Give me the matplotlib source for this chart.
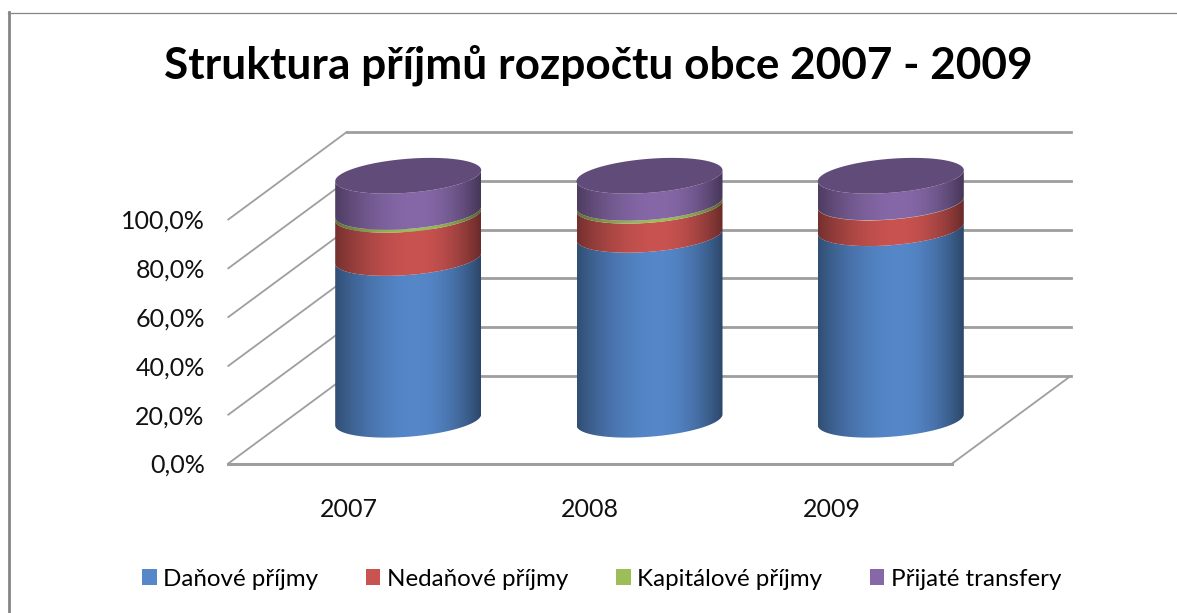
import numpy as np
import matplotlib
matplotlib.use("Agg")
import matplotlib.pyplot as plt
from matplotlib.colors import to_rgb
from matplotlib.lines import Line2D
from matplotlib.patches import Patch, Polygon

plt.rcParams['font.family'] = ['Lato', 'DejaVu Sans']

# ---- data (percent of the year's income) ----
years = ['2007', '2008', '2009']
danove = [66.3, 75.8, 78.5]
nedanove = [17.7, 11.9, 10.5]
kapitalove = [1.2, 1.2, 0.1]
transfery = [14.8, 11.1, 10.9]
series_names = ['Daňové příjmy', 'Nedaňové příjmy', 'Kapitálové příjmy', 'Přijaté transfery']
y_ticks = [0, 20, 40, 60, 80, 100]
y_labels = ['0,0%', '20,0%', '40,0%', '60,0%', '80,0%', '100,0%']
title = 'Struktura příjmů rozpočtu obce 2007 - 2009'

# ---- style ----
colors = ['#5587C9', '#C95350', '#9DBD58', '#8668A8']
top_color = '#614B79'
grid_color = '#9E9E9E'

W, H = 1177, 613
fig = plt.figure(figsize=(W / 100, H / 100), dpi=100, facecolor='white')


def fx(px):
    return px / W


def fy(py):
    return 1 - py / H


L, R, T, B = 228.3, 1070, 130, 463.5
ax = fig.add_axes([fx(L), fy(B), (R - L) / W, (B - T) / H])
PX_X = 241.3   # pixels per category
PX_Y = 2.44    # pixels per percent
ax.patch.set_visible(False)
for s in ax.spines.values():
    s.set_visible(False)

DX = 118.5 / PX_X   # depth shift, category units
DY = 87.5 / PX_Y    # depth shift, percent units
XMIN = -0.5

# walls / floor
for v in y_ticks:
    ax.plot([XMIN, XMIN + DX], [v, v + DY], color=grid_color, lw=1.3, clip_on=False, zorder=1)
    ax.plot([XMIN + DX, XMIN + 3 + DX], [v + DY, v + DY], color=grid_color, lw=2.0, clip_on=False, zorder=1)
ax.plot([XMIN, XMIN + 3], [0, 0], color=grid_color, lw=2.2, clip_on=False, zorder=1)
ax.plot([XMIN + 3, XMIN + 3 + DX], [0, DY], color=grid_color, lw=1.3, clip_on=False, zorder=1)

# cylinders
HALF_W = 73 / PX_X
MINOR = 17 / PX_Y
SHEAR = 5.5 / PX_Y
t_front = np.linspace(0, np.pi, 80)


def rim(xc, level, t):
    return (xc + DX / 2 + HALF_W * np.cos(t),
            level + DY / 2 - MINOR * np.sin(t) + SHEAR * np.cos(t))


def shade(color):
    u = np.linspace(0, 1, 256)
    peak = 0.56
    d = np.where(u < peak, (peak - u) / peak, (u - peak) / (1 - peak))
    edge = np.where(u < peak, 0.42, 0.48)
    f = 1 - edge * d ** 1.9
    return (np.array(to_rgb(color))[None, None, :] * f[None, :, None]).clip(0, 1)


stack = np.array([danove, nedanove, kapitalove, transfery])
tops = np.cumsum(stack, axis=0)
bases = tops - stack
for i in range(len(years)):
    for j in range(stack.shape[0]):
        x0, y0 = rim(i, bases[j, i], t_front)
        x1, y1 = rim(i, tops[j, i], t_front)
        poly = np.column_stack([np.r_[x0, x1[::-1]], np.r_[y0, y1[::-1]]])
        clip = Polygon(poly, closed=True, transform=ax.transData)
        im = ax.imshow(shade(colors[j]), aspect='auto', interpolation='bilinear',
                       extent=[i + DX / 2 - HALF_W, i + DX / 2 + HALF_W, poly[:, 1].min(), poly[:, 1].max()],
                       zorder=3 + j * 0.1, clip_on=True)
        im.set_clip_path(clip)
    t = np.linspace(0, 2 * np.pi, 160)
    xt, yt = rim(i, tops[-1, i], t)
    ax.fill(xt, yt, color=top_color, lw=0, zorder=4, clip_on=False)

ax.set_xlim(XMIN, XMIN + (R - L) / PX_X)
ax.set_ylim(0, (B - T) / PX_Y)
ax.set_xticks(range(len(years)), years)
ax.set_yticks(y_ticks, y_labels)
ax.tick_params(axis='both', length=0, labelsize=18, colors='#111111')
ax.tick_params(axis='x', pad=25)
ax.tick_params(axis='y', pad=17)

fig.text(fx(598), fy(65), title, ha='center', va='center', fontsize=31.8, fontweight='bold', color='black')

handles = [Patch(facecolor=c, edgecolor='none') for c in colors]
fig.legend(handles, series_names, loc='center', bbox_to_anchor=(fx(601.5), fy(579)), ncol=4, frameon=False,
           fontsize=17.4, handlelength=0.6, handleheight=0.6, handletextpad=0.25, columnspacing=2.0)

# chart frame
fig.add_artist(Line2D([fx(8), fx(W)], [fy(12.5), fy(12.5)], color='#858585', lw=0.9))
fig.add_artist(Line2D([fx(8.5), fx(8.5)], [fy(12), fy(H)], color='#858585', lw=2.0))

fig.savefig('out.png', dpi=100, facecolor='white')
